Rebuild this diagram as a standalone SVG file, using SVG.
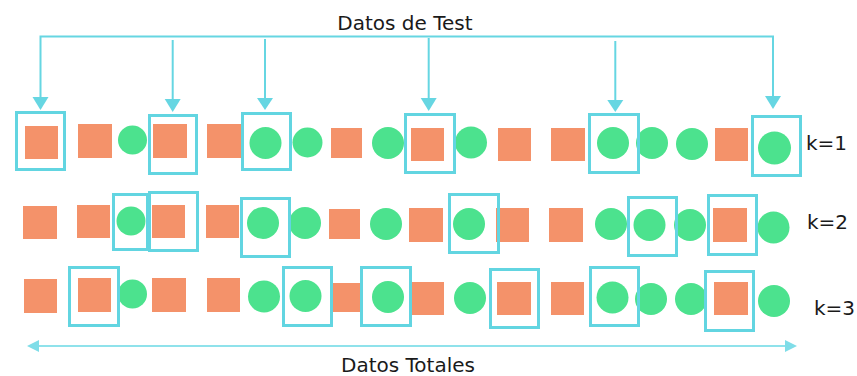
<svg xmlns="http://www.w3.org/2000/svg" width="857" height="376" viewBox="0 0 857 376">
<style>
.sq{fill:#f4926a}
.ci{fill:#4ce28e}
.bx{fill:none;stroke:#62d5e1;stroke-width:3}
.ln{fill:none;stroke:#66d6e2;stroke-width:2}
.hd{fill:#66d6e2}
.lb{font-family:"DejaVu Sans",Verdana,sans-serif;font-size:20px;fill:#1a1a1a}
</style>
<rect width="857" height="376" fill="#ffffff"/>
<g id="title"><text class="lb" x="405" y="30" text-anchor="middle">Datos de Test</text></g>
<g id="connectors">
<polyline class="ln" points="40.5,98 40.5,36.5 773,36.5 773,97"/>
<line class="ln" x1="172.7" y1="40" x2="172.7" y2="99"/>
<line class="ln" x1="265" y1="39" x2="265" y2="98"/>
<line class="ln" x1="428.7" y1="38" x2="428.7" y2="98"/>
<line class="ln" x1="615.3" y1="41" x2="615.3" y2="100"/>
<polygon class="hd" points="32.5,97 48.5,97 40.5,110"/>
<polygon class="hd" points="164.7,99 180.7,99 172.7,112"/>
<polygon class="hd" points="257,98 273,98 265,110"/>
<polygon class="hd" points="420.7,98 436.7,98 428.7,111"/>
<polygon class="hd" points="607.3,100 623.3,100 615.3,112"/>
<polygon class="hd" points="765,96 781,96 773,109"/>
<line x1="38" y1="346" x2="786" y2="346" stroke="#8fe2eb" stroke-width="2"/>
<polygon fill="#7fdde8" points="27,346 39,340 39,352"/>
<polygon fill="#7fdde8" points="797,346 785,340 785,352"/>
</g>
<g id="row1">
<rect class="sq" x="25" y="126" width="33" height="33"/>
<rect class="sq" x="78" y="124" width="34" height="34"/>
<rect class="sq" x="153" y="124" width="34" height="34"/>
<rect class="sq" x="207" y="124" width="34" height="34"/>
<rect class="sq" x="331" y="128" width="31" height="30"/>
<rect class="sq" x="411" y="128" width="33" height="33"/>
<rect class="sq" x="498" y="128" width="33" height="33"/>
<rect class="sq" x="551" y="128" width="34" height="33"/>
<rect class="sq" x="715" y="128" width="33" height="33"/>
<circle class="ci" cx="132.5" cy="140" r="14.5"/>
<circle class="ci" cx="265.5" cy="143" r="16"/>
<circle class="ci" cx="307.5" cy="142.5" r="15"/>
<circle class="ci" cx="388" cy="143" r="16"/>
<circle class="ci" cx="471" cy="142.5" r="16"/>
<circle class="ci" cx="613" cy="143" r="16"/>
<circle class="ci" cx="652" cy="143" r="16"/>
<circle class="ci" cx="692" cy="144" r="16"/>
<circle class="ci" cx="774.5" cy="148" r="16.5"/>
<rect class="bx" x="16.5" y="112.5" width="48" height="57"/>
<rect class="bx" x="149.5" y="115.5" width="47" height="58"/>
<rect class="bx" x="242.5" y="113.5" width="48" height="56"/>
<rect class="bx" x="405.5" y="114.5" width="49" height="58"/>
<rect class="bx" x="589.5" y="114.5" width="49" height="58"/>
<rect class="bx" x="752.5" y="116.5" width="48" height="59"/>
<text class="lb" x="806" y="150">k=1</text>
</g>
<g id="row2">
<rect class="sq" x="23" y="206" width="34" height="33"/>
<rect class="sq" x="77" y="205" width="33" height="33"/>
<rect class="sq" x="152" y="205" width="33" height="33"/>
<rect class="sq" x="206" y="205" width="33" height="33"/>
<rect class="sq" x="329" y="209" width="31" height="30"/>
<rect class="sq" x="409" y="208" width="34" height="34"/>
<rect class="sq" x="496" y="208" width="33" height="34"/>
<rect class="sq" x="549" y="208" width="34" height="34"/>
<rect class="sq" x="713" y="208" width="34" height="34"/>
<circle class="ci" cx="131" cy="221" r="14.5"/>
<circle class="ci" cx="263" cy="223" r="16"/>
<circle class="ci" cx="305" cy="223" r="16"/>
<circle class="ci" cx="386" cy="224" r="16"/>
<circle class="ci" cx="469" cy="224" r="16"/>
<circle class="ci" cx="611" cy="224" r="16"/>
<circle class="ci" cx="649.5" cy="225" r="16"/>
<circle class="ci" cx="690" cy="225" r="16"/>
<circle class="ci" cx="773.5" cy="227.5" r="16"/>
<rect class="bx" x="113.5" y="194.5" width="34" height="55"/>
<rect class="bx" x="149.5" y="192.5" width="48" height="58"/>
<rect class="bx" x="241.5" y="198.5" width="48" height="58"/>
<rect class="bx" x="449.5" y="194.5" width="49" height="58"/>
<rect class="bx" x="628.5" y="197.5" width="48" height="58"/>
<rect class="bx" x="708.5" y="195.5" width="48" height="59"/>
<text class="lb" x="807" y="229">k=2</text>
</g>
<g id="row3">
<rect class="sq" x="24" y="279" width="33" height="34"/>
<rect class="sq" x="78" y="278" width="33" height="34"/>
<rect class="sq" x="152" y="278" width="34" height="34"/>
<rect class="sq" x="207" y="278" width="33" height="34"/>
<rect class="sq" x="332" y="283" width="30" height="29"/>
<rect class="sq" x="412" y="282" width="32" height="33"/>
<rect class="sq" x="497" y="282" width="34" height="33"/>
<rect class="sq" x="551" y="282" width="33" height="33"/>
<rect class="sq" x="714" y="282" width="34" height="33"/>
<circle class="ci" cx="132.5" cy="294" r="14.5"/>
<circle class="ci" cx="264" cy="296.5" r="16"/>
<circle class="ci" cx="305.5" cy="296" r="16"/>
<circle class="ci" cx="388" cy="297" r="16"/>
<circle class="ci" cx="470" cy="298" r="16"/>
<circle class="ci" cx="612.5" cy="297.5" r="16"/>
<circle class="ci" cx="651" cy="299" r="16"/>
<circle class="ci" cx="691" cy="299" r="16"/>
<circle class="ci" cx="774" cy="301" r="16"/>
<rect class="bx" x="69.5" y="267.5" width="49" height="58"/>
<rect class="bx" x="283.5" y="267.5" width="48" height="58"/>
<rect class="bx" x="361.5" y="267.5" width="49" height="58"/>
<rect class="bx" x="490.5" y="269.5" width="48" height="58"/>
<rect class="bx" x="590.5" y="267.5" width="48" height="58"/>
<rect class="bx" x="705.5" y="271.5" width="48" height="59"/>
<text class="lb" x="814" y="315">k=3</text>
</g>
<g id="footer"><text class="lb" x="408" y="372" text-anchor="middle">Datos Totales</text></g>
</svg>
